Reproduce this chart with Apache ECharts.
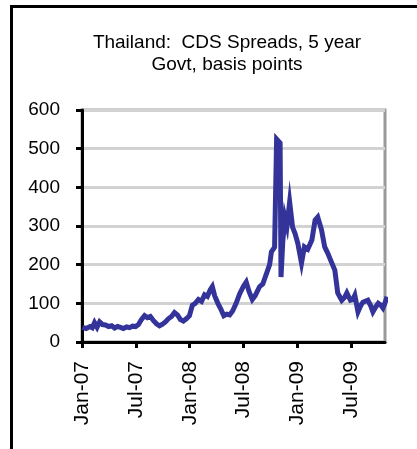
<!DOCTYPE html>
<html>
<head>
<meta charset="utf-8">
<script src="https://cdn.jsdelivr.net/npm/echarts@6/dist/echarts.min.js"></script>
<style>html,body{margin:0;padding:0;background:#fff;}#c{width:417px;height:449px;}</style>
</head>
<body>
<div id="c"></div>
<script>
const titleText = 'Thailand:  CDS Spreads, 5 year\nGovt, basis points';
const tickLabels = ['Jan-07', 'Jul-07', 'Jan-08', 'Jul-08', 'Jan-09', 'Jul-09'];
const yTicks = [0, 100, 200, 300, 400, 500, 600];
const dates = [
 '2007-01-02','2007-01-15','2007-01-29','2007-02-05','2007-02-12','2007-02-20','2007-02-28','2007-03-10','2007-03-20','2007-03-31',
 '2007-04-10','2007-04-20','2007-04-30','2007-05-10','2007-05-20','2007-05-31','2007-06-10','2007-06-20','2007-06-30','2007-07-10',
 '2007-07-20','2007-07-31','2007-08-10','2007-08-20','2007-08-31','2007-09-10','2007-09-20','2007-09-30','2007-10-10','2007-10-20',
 '2007-10-31','2007-11-10','2007-11-20','2007-11-30','2007-12-10','2007-12-20','2007-12-31',
 '2008-01-10','2008-01-20','2008-01-31','2008-02-10','2008-02-20','2008-02-29','2008-03-10','2008-03-17','2008-03-25','2008-04-05',
 '2008-04-15','2008-04-25','2008-05-05','2008-05-15','2008-05-25','2008-06-05','2008-06-18','2008-07-01','2008-07-10','2008-07-20',
 '2008-07-31','2008-08-10','2008-08-25','2008-09-05','2008-09-18','2008-09-28','2008-10-04','2008-10-15','2008-10-20','2008-10-22',
 '2008-11-03','2008-11-06','2008-11-12','2008-11-19','2008-11-26','2008-12-05','2008-12-15','2008-12-24',
 '2009-01-02','2009-01-15','2009-01-25','2009-02-05','2009-02-18','2009-02-28','2009-03-09','2009-03-22','2009-04-02','2009-04-12',
 '2009-04-26','2009-05-06','2009-05-16','2009-05-30','2009-06-08','2009-06-16','2009-06-28','2009-07-06','2009-07-13','2009-07-24',
 '2009-08-03','2009-08-10','2009-08-27','2009-09-05','2009-09-13','2009-09-22','2009-10-01','2009-10-10','2009-10-17','2009-10-24','2009-10-31'
];
const spreads = [
 38,35,40,37,50,38,52,45,44,40,
 42,36,40,38,35,39,37,41,40,45,
 58,68,63,66,55,47,42,46,52,60,
 66,76,70,58,54,60,68,
 95,100,110,105,122,118,135,143,120,100,
 85,68,72,70,80,98,125,145,155,130,
 110,120,143,150,178,200,233,245,240,525,
 515,168,260,323,300,362,297,280,
 256,204,246,240,264,315,323,290,246,230,
 204,186,127,108,115,127,108,110,121,78,
 95,103,108,95,78,90,100,95,88,100,117
];

function toMonths(s) {
  const p = s.split('-').map(Number);
  const dim = new Date(p[0], p[1], 0).getDate();
  return (p[0] - 2007) * 12 + (p[1] - 1) + (p[2] - 1) / dim;
}
const seriesData = dates.map((d, i) => [toMonths(d), spreads[i]]);

const FONT = '"Liberation Sans", Arial, sans-serif';
const chart = echarts.init(document.getElementById('c'), null, {renderer: 'canvas'});
chart.setOption({
  backgroundColor: '#fff',
  animation: false,
  graphic: [
    {type: 'polyline', shape: {points: [[11.5, 449], [11.5, 6.5], [417, 6.5]]},
     style: {stroke: '#000', lineWidth: 3, fill: null}, z: 10},
    {type: 'text', x: 227, y: 32,
     style: {text: titleText, fill: '#000', font: '19px ' + FONT, textAlign: 'center', lineHeight: 22}}
  ],
  grid: {left: 82, right: 32, top: 110, bottom: 107, show: true, borderColor: '#9a9a9a', borderWidth: 3, backgroundColor: '#fff'},
  xAxis: {
    type: 'value', min: 0, max: 33.75, interval: 6,
    axisLine: {show: true, lineStyle: {color: '#000', width: 3}},
    axisTick: {show: true, length: 6, lineStyle: {color: '#000', width: 3}},
    splitLine: {show: false},
    axisLabel: {
      rotate: 90, margin: 19, color: '#000', fontSize: 21, fontFamily: FONT,
      showMaxLabel: false,
      formatter: v => tickLabels[Math.round(v / 6)] || ''
    }
  },
  yAxis: {
    type: 'value', min: 0, max: 600, interval: 100,
    axisLine: {show: true, lineStyle: {color: '#000', width: 3}},
    axisTick: {show: true, length: 6, lineStyle: {color: '#000', width: 3}},
    splitLine: {show: true, lineStyle: {color: '#d2d2d2', width: 3}},
    axisLabel: {margin: 22, color: '#000', fontSize: 19, fontFamily: FONT,
      formatter: v => yTicks.includes(v) ? String(v) : ''}
  },
  series: [{
    type: 'line', data: seriesData, showSymbol: false, symbol: 'none',
    lineStyle: {color: '#333399', width: 5, join: 'miter'}, clip: false, z: 5
  }]
});
</script>
</body>
</html>
